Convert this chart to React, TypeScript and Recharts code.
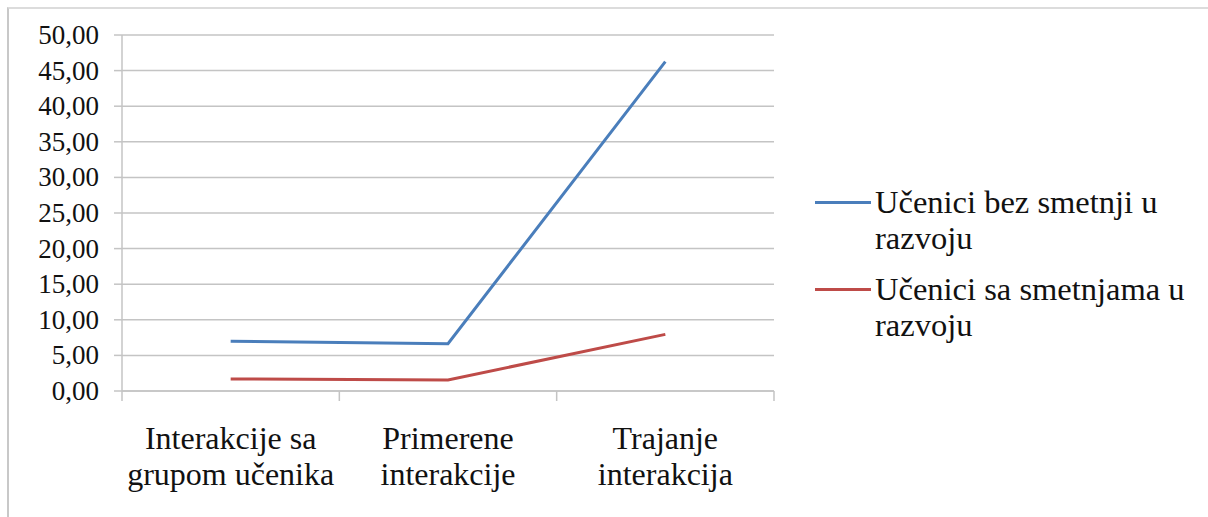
import React from "react";
import {
    LineChart,
    Line,
    XAxis,
    YAxis,
    CartesianGrid,
} from "recharts";

const categories = [
    "Interakcije sa\ngrupom učenika",
    "Primerene\ninterakcije",
    "Trajanje\ninterakcija",
];
const bezSmetnji = [7.0, 6.65, 46.25];
const saSmetnjama = [1.7, 1.55, 7.95];
const yTicks = [0, 5, 10, 15, 20, 25, 30, 35, 40, 45, 50];

const seriesKeys = ["bez", "sa"];
const seriesNames = ["Učenici bez smetnji u razvoju", "Učenici sa smetnjama u razvoju"];
const seriesLines = [
    ["Učenici bez smetnji u", "razvoju"],
    ["Učenici sa smetnjama u", "razvoju"],
];
const colors = ["#4a7ebb", "#be4b48"];

const data = categories.map((c, i) => ({
    name: c,
    bez: bezSmetnji[i],
    sa: saSmetnjama[i],
}));

const FONT = '"Liberation Serif", "Times New Roman", serif';
const GRID = "#c4c4c4";
const PLOT_LEFT = 122;
const PLOT_RIGHT = 774;
const BAND = (PLOT_RIGHT - PLOT_LEFT) / categories.length;

const fmt = (v: number) => v.toFixed(2).replace(".", ",");

const XTick = (props: any) => {
    const { x, y, payload, index } = props;
    const lines = String(payload.value).split("\n");
    const last = index === categories.length - 1;
    return (
        <g transform={`translate(${x},${y})`}>
            <line x1={-BAND / 2} y1={0} x2={-BAND / 2} y2={10} stroke={GRID} strokeWidth={1.5} />
            {last && <line x1={BAND / 2} y1={0} x2={BAND / 2} y2={10} stroke={GRID} strokeWidth={1.5} />}
            {lines.map((l, i) => (
                <text
                    key={i}
                    x={0}
                    y={58 + i * 36}
                    textAnchor="middle"
                    fontFamily={FONT}
                    fontSize={32}
                    fill="#111"
                >
                    {l}
                </text>
            ))}
        </g>
    );
};

const YTick = (props: any) => {
    const { x, y, payload } = props;
    return (
        <text x={x} y={y + 9} textAnchor="end" fontFamily={FONT} fontSize={27} fill="#111">
            {fmt(payload.value)}
        </text>
    );
};

const ChartLegend = () => (
    <div
        style={{
            position: "absolute",
            left: 815,
            top: 184,
            fontFamily: FONT,
            fontSize: 32.5,
            lineHeight: "36px",
            color: "#111",
        }}
    >
        {seriesLines.map((lines, i) => (
            <div key={i} style={{ position: "relative", paddingLeft: 60, marginBottom: 15 }}>
                <div
                    style={{
                        position: "absolute",
                        left: 0,
                        top: 17,
                        width: 56,
                        height: 3,
                        background: colors[i],
                    }}
                />
                {lines.map((l, j) => (
                    <div key={j} style={{ whiteSpace: "nowrap" }}>{l}</div>
                ))}
            </div>
        ))}
    </div>
);

export default function App() {
    return (
        <div style={{ position: "absolute", left: 0, top: 0, width: 1208, height: 517, background: "#fff" }}>
            <div
                style={{
                    position: "absolute",
                    left: 7,
                    top: 7,
                    width: 1201,
                    height: 510,
                    borderTop: "2px solid #dcdcdc",
                    borderLeft: "2px solid #c8c8c8",
                    boxSizing: "border-box",
                }}
            />
            <LineChart
                width={1208}
                height={517}
                data={data}
                margin={{ top: 35, right: 1208 - PLOT_RIGHT, bottom: 0, left: 0 }}
                style={{ position: "absolute", left: 0, top: 0 }}
            >
                <CartesianGrid vertical={false} stroke={GRID} strokeWidth={1.5} />
                <XAxis
                    dataKey="name"
                    height={126}
                    padding={{ left: BAND / 2, right: BAND / 2 }}
                    axisLine={{ stroke: GRID, strokeWidth: 1.5 }}
                    tickLine={false}
                    tickSize={0}
                    tickMargin={0}
                    interval={0}
                    tick={<XTick />}
                />
                <YAxis
                    width={PLOT_LEFT}
                    domain={[0, 50]}
                    ticks={yTicks}
                    interval={0}
                    axisLine={{ stroke: GRID, strokeWidth: 1.5 }}
                    tickLine={{ stroke: GRID, strokeWidth: 1.5 }}
                    tickSize={8}
                    tickMargin={15}
                    tick={<YTick />}
                />
                {seriesKeys.map((k, i) => (
                    <Line
                        key={k}
                        type="linear"
                        dataKey={k}
                        name={seriesNames[i]}
                        stroke={colors[i]}
                        strokeWidth={3}
                        dot={false}
                        isAnimationActive={false}
                    />
                ))}
            </LineChart>
            <ChartLegend />
        </div>
    );
}
